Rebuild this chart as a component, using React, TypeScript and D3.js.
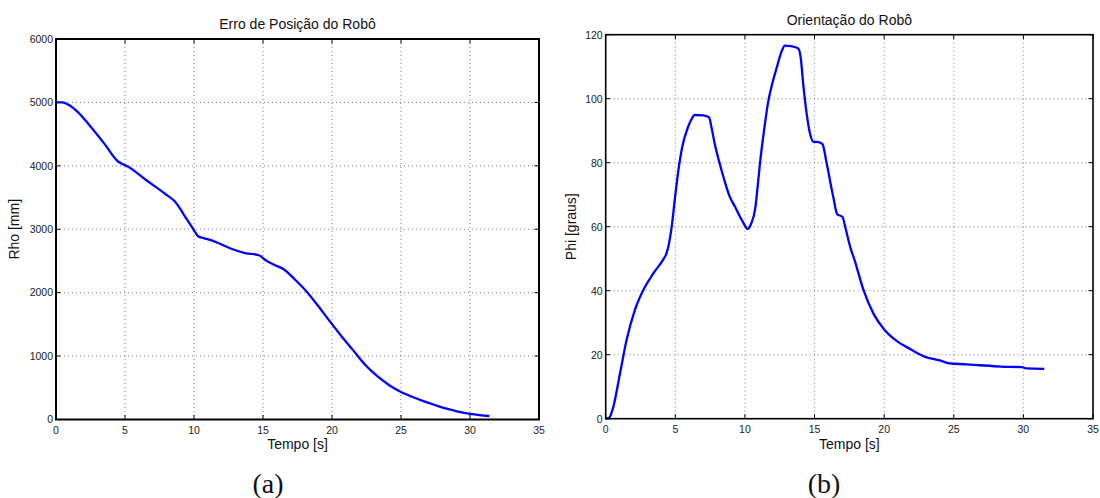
import React from "react";
import * as d3 from "d3";

// ---- Data ----
const rhoTime = [0, 0.45, 1.0, 1.55, 2.5, 3.5, 4.5, 4.8, 5.2, 6.5, 7.9, 8.6, 9.5, 10.07, 10.3, 10.7, 11.28, 12.0, 12.7, 13.7, 14.7, 15.2, 15.8, 16.5, 17.3, 18.17, 19.0, 19.86, 20.7, 21.54, 22.4, 23.24, 24.1, 24.93, 25.8, 26.62, 27.5, 28.3, 29.2, 30.0, 30.7, 31.4];
const rhoValues = [5000, 5000, 4950, 4855, 4620, 4350, 4068, 4030, 3989, 3780, 3560, 3440, 3150, 2960, 2890, 2860, 2824, 2760, 2693, 2625, 2590, 2510, 2440, 2370, 2210, 2016, 1790, 1543, 1310, 1090, 862, 690, 548, 440, 358, 290, 225, 170, 122, 90, 70, 55];

const phiTime = [0, 0.25, 0.55, 1.03, 1.5, 2.1, 2.7, 3.42, 4.14, 4.35, 4.5, 4.74, 4.95, 5.2, 5.5, 5.9, 6.1, 6.4, 7.0, 7.42, 7.6, 7.85, 8.2, 8.56, 8.9, 9.28, 9.6, 9.88, 10.19, 10.45, 10.74, 10.9, 11.08, 11.4, 11.67, 11.95, 12.27, 12.63, 12.87, 13.3, 13.83, 14.0, 14.2, 14.43, 14.67, 14.9, 15.3, 15.57, 15.87, 16.34, 16.63, 17.0, 17.2, 17.58, 17.88, 18.5, 19.26, 20.0, 20.9, 21.9, 22.9, 24.0, 24.7, 25.9, 26.9, 28.4, 29.9, 30.2, 31.5];
const phiValues = [0, 0.3, 3.75, 14.2, 24.6, 34, 40.2, 45.4, 49.8, 51.5, 53.8, 60, 68, 77, 85, 91, 93, 94.9, 94.8, 94.2, 91, 85.5, 79.5, 74, 69.5, 66.3, 63.5, 61.3, 59.3, 61, 65.7, 72, 79.8, 91, 99, 104.5, 109.5, 114.7, 116.6, 116.4, 115.7, 113, 104, 95.4, 89.2, 86.6, 86.4, 85.8, 79.8, 69.4, 63.9, 63.1, 60, 53.4, 49.5, 40.4, 32.6, 27.9, 24.3, 21.7, 19.4, 18.2, 17.3, 17.0, 16.7, 16.3, 16.1, 15.7, 15.6];

const xTicks = [0, 5, 10, 15, 20, 25, 30, 35];
const rhoTicks = [0, 1000, 2000, 3000, 4000, 5000, 6000];
const phiTicks = [0, 20, 40, 60, 80, 100, 120];

const titles = ["Erro de Posição do Robô", "Orientação do Robô"];
const yLabels = ["Rho [mm]", "Phi [graus]"];
const xLabel = "Tempo [s]";
const captions = ["(a)", "(b)"];

const FONT = "'Liberation Sans', Arial, Helvetica, sans-serif";

type PanelProps = {
  left: number; right: number; top: number; bottom: number;
  time: number[]; values: number[]; yMax: number; yTicks: number[];
  title: string; titleY: number; yLabel: string; yLabelX: number;
  caption: string; captionX: number; frameWidth: number;
};

function Panel(p: PanelProps) {
  const x = d3.scaleLinear().domain([0, 35]).range([p.left, p.right]);
  const y = d3.scaleLinear().domain([0, p.yMax]).range([p.bottom, p.top]);
  const pts = p.time.map((t, i) => [t, p.values[i]] as [number, number]);
  const line = d3.line<[number, number]>()
    .x(d => x(d[0]))
    .y(d => y(d[1]))
    .curve(d3.curveMonotoneX);
  const tickLen = 4.5;
  const cx = (p.left + p.right) / 2;
  const cy = (p.top + p.bottom) / 2;
  return (
    <g>
      {/* grid */}
      {xTicks.slice(1, -1).map(t => (
        <line key={"gx" + t} x1={x(t)} x2={x(t)} y1={p.top} y2={p.bottom}
          stroke="#808080" strokeWidth={1} strokeDasharray="1,3" />
      ))}
      {p.yTicks.slice(1, -1).map(v => (
        <line key={"gy" + v} x1={p.left} x2={p.right} y1={y(v)} y2={y(v)}
          stroke="#808080" strokeWidth={1} strokeDasharray="1,3" />
      ))}
      {/* ticks inside */}
      {xTicks.map(t => (
        <g key={"tx" + t}>
          <line x1={x(t)} x2={x(t)} y1={p.bottom} y2={p.bottom - tickLen} stroke="#000" strokeWidth={1} />
          <line x1={x(t)} x2={x(t)} y1={p.top} y2={p.top + tickLen} stroke="#000" strokeWidth={1} />
          <text x={x(t)} y={p.bottom + 14} textAnchor="middle" fontFamily={FONT} fontSize={10.5} fill="#222">{t}</text>
        </g>
      ))}
      {p.yTicks.map(v => (
        <g key={"ty" + v}>
          <line x1={p.left} x2={p.left + tickLen} y1={y(v)} y2={y(v)} stroke="#000" strokeWidth={1} />
          <line x1={p.right} x2={p.right - tickLen} y1={y(v)} y2={y(v)} stroke="#000" strokeWidth={1} />
          <text x={p.left - 3} y={y(v) + 3.8} textAnchor="end" fontFamily={FONT} fontSize={10.5} fill="#222">{v}</text>
        </g>
      ))}
      {/* data */}
      <path d={line(pts) || ""} fill="none" stroke="#0000ff" strokeWidth={2.3} strokeLinejoin="round" />
      {/* frame */}
      <rect x={p.left} y={p.top} width={p.right - p.left} height={p.bottom - p.top}
        fill="none" stroke="#000" strokeWidth={p.frameWidth} />
      {/* labels */}
      <text x={cx} y={p.titleY} textAnchor="middle" fontFamily={FONT} fontSize={14} fill="#111">{p.title}</text>
      <text x={cx} y={449} textAnchor="middle" fontFamily={FONT} fontSize={14} fill="#111">{xLabel}</text>
      <text transform={`translate(${p.yLabelX},${cy}) rotate(-90)`} textAnchor="middle" fontFamily={FONT} fontSize={14} fill="#111">{p.yLabel}</text>
      <text x={p.captionX} y={493} textAnchor="middle" fontFamily="'Liberation Serif', 'DejaVu Serif', serif" fontSize={28} fill="#111">{p.caption}</text>
    </g>
  );
}

export default function App() {
  return (
    <svg width={1100} height={498} style={{ position: "absolute", left: 0, top: 0, background: "#fff" }}>
      <rect x={0} y={0} width={1100} height={498} fill="#fff" />
      <Panel left={56} right={539} top={39} bottom={419.5}
        time={rhoTime} values={rhoValues} yMax={6000} yTicks={rhoTicks}
        title={titles[0]} titleY={29} yLabel={yLabels[0]} yLabelX={19}
        caption={captions[0]} captionX={268} frameWidth={2} />
      <Panel left={605.7} right={1093} top={34.7} bottom={418.7}
        time={phiTime} values={phiValues} yMax={120} yTicks={phiTicks}
        title={titles[1]} titleY={25} yLabel={yLabels[1]} yLabelX={576}
        caption={captions[1]} captionX={824} frameWidth={1.6} />
    </svg>
  );
}
